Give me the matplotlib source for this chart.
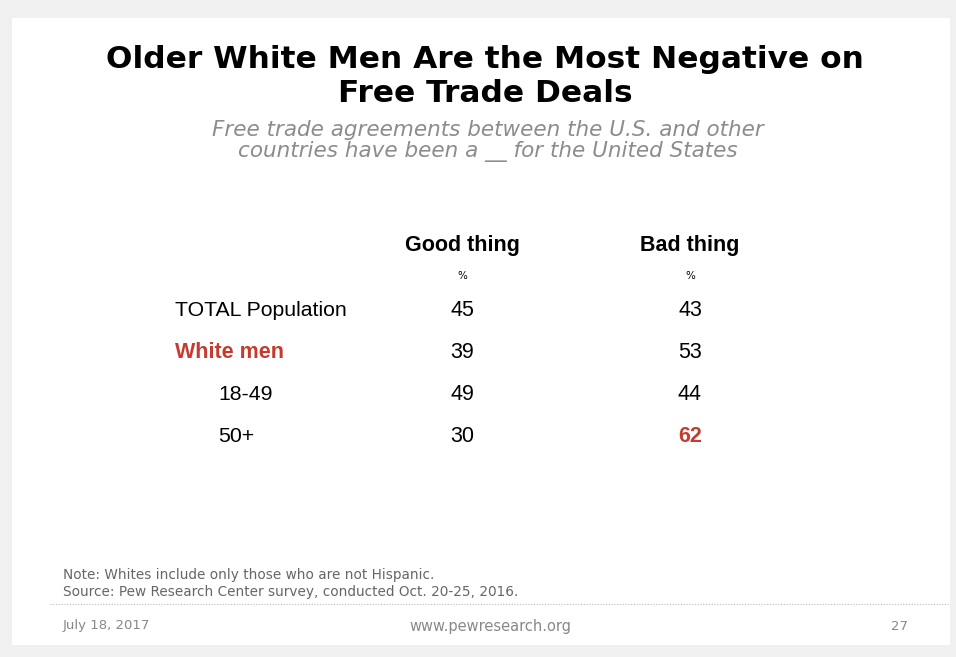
import matplotlib
matplotlib.use("Agg")
import matplotlib.pyplot as plt
from matplotlib.patches import Rectangle

categories = ["TOTAL Population", "White men", "18-49", "50+"]
indent = [False, False, True, True]
good_thing = [45, 39, 49, 30]
bad_thing = [43, 53, 44, 62]
columns = ["Good thing", "Bad thing"]

RED = "#c63b2f"
W, H = 956, 657
fig = plt.figure(figsize=(W / 100, H / 100), dpi=100)
fig.patch.set_facecolor("#f0f0f0")
ax = fig.add_axes([0, 0, 1, 1])
ax.set_xlim(0, W)
ax.set_ylim(H, 0)
ax.axis("off")

ax.add_patch(Rectangle((12, 18), 938, 627, facecolor="white", edgecolor="none"))

ax.text(485, 60, "Older White Men Are the Most Negative on", ha="center", va="center",
        fontsize=22.5, fontweight="bold", color="black", family="DejaVu Sans")
ax.text(485, 93, "Free Trade Deals", ha="center", va="center",
        fontsize=22.5, fontweight="bold", color="black", family="DejaVu Sans")
ax.text(488, 130, "Free trade agreements between the U.S. and other", ha="center", va="center",
        fontsize=15.5, style="italic", color="#8c8c8c", family="DejaVu Sans")
ax.text(488, 152, "countries have been a __ for the United States", ha="center", va="center",
        fontsize=15.5, style="italic", color="#8c8c8c", family="DejaVu Sans")

col_x = [462, 690]
for cx, name in zip(col_x, columns):
    ax.text(cx, 246, name, ha="center", va="center", fontsize=15.5, fontweight="bold",
            color="black", family="Liberation Sans")
    ax.text(cx, 276, "%", ha="center", va="center", fontsize=7.5, color="black", family="DejaVu Sans")

row_y = [310, 352, 394, 436]
for i, (cat, g, b) in enumerate(zip(categories, good_thing, bad_thing)):
    y = row_y[i]
    lx = 218 if indent[i] else 175
    if cat == "White men":
        ax.text(lx, y, cat, ha="left", va="center", fontsize=15.5, fontweight="bold", color=RED,
                family="Liberation Sans")
    else:
        ax.text(lx, y, cat, ha="left", va="center", fontsize=15.3, color="black", family="Liberation Sans")
    ax.text(col_x[0], y, str(g), ha="center", va="center", fontsize=15.5, color="black", family="Liberation Sans")
    is_max = b == max(bad_thing)
    ax.text(col_x[1], y, str(b), ha="center", va="center", fontsize=15.5,
            fontweight="bold" if is_max else "normal", color=RED if is_max else "black",
            family="Liberation Sans")

ax.text(63, 575, "Note: Whites include only those who are not Hispanic.", ha="left", va="center",
        fontsize=9.8, color="#666666", family="DejaVu Sans")
ax.text(63, 592, "Source: Pew Research Center survey, conducted Oct. 20-25, 2016.", ha="left", va="center",
        fontsize=9.8, color="#666666", family="DejaVu Sans")
ax.plot([50, 950], [604, 604], linestyle=(0, (1, 1.5)), color="#bbbbbb", linewidth=0.8)
ax.text(63, 626, "July 18, 2017", ha="left", va="center", fontsize=9.5, color="#888888", family="DejaVu Sans")
ax.text(490, 626, "www.pewresearch.org", ha="center", va="center", fontsize=10.5, color="#888888",
        family="DejaVu Sans")
ax.text(900, 626, "27", ha="center", va="center", fontsize=9.5, color="#888888", family="DejaVu Sans")

fig.savefig("out.png", dpi=100, facecolor=fig.get_facecolor())
